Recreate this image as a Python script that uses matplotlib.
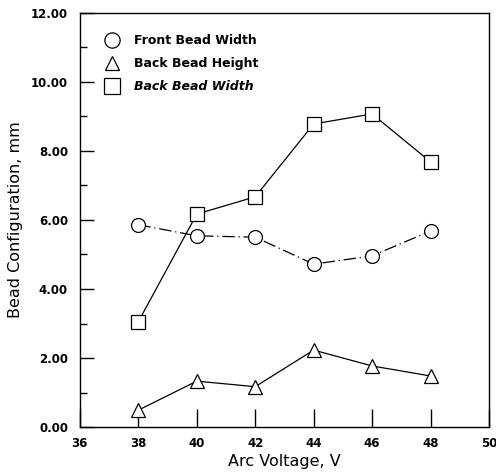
import matplotlib
matplotlib.use("Agg")
import matplotlib.pyplot as plt
import matplotlib.ticker as mticker
from matplotlib.lines import Line2D

plt.rcParams['font.family'] = ['DejaVu Sans']

voltage = [38, 40, 42, 44, 46, 48]
front_bead_width = [5.86, 5.54, 5.50, 4.72, 4.96, 5.68]
back_bead_height = [0.49, 1.33, 1.17, 2.23, 1.77, 1.48]
back_bead_width = [3.05, 6.17, 6.67, 8.78, 9.07, 7.68]

fig = plt.figure(figsize=(4.96, 4.74), dpi=100)
ax = fig.add_axes([0.161, 0.099, 0.825, 0.874])

ax.plot(voltage, front_bead_width, color='black', lw=0.9, ls=(0, (10, 3, 1, 3)),
        marker='o', ms=10, mfc='white', mec='black', mew=0.9)
ax.plot(voltage, back_bead_height, color='black', lw=0.9,
        marker='^', ms=10, mfc='white', mec='black', mew=0.9)
ax.plot(voltage, back_bead_width, color='black', lw=0.9,
        marker='s', ms=10, mfc='white', mec='black', mew=0.9)

ax.set_xlim(36, 50)
ax.set_ylim(0, 12)
ax.xaxis.set_major_locator(mticker.MultipleLocator(2))
ax.yaxis.set_major_locator(mticker.MultipleLocator(2))
ax.yaxis.set_minor_locator(mticker.MultipleLocator(1))
ax.yaxis.set_major_formatter(mticker.FormatStrFormatter('%.2f'))
ax.tick_params(axis='both', which='major', direction='in', length=10, width=1,
               labelsize=8.5)
ax.tick_params(axis='y', which='major', pad=8.5)
ax.tick_params(axis='y', which='minor', direction='in', length=5, width=1)
ax.tick_params(axis='x', which='major', length=13, pad=7)
for lab in ax.get_xticklabels() + ax.get_yticklabels():
    lab.set_fontweight('bold')

for s in ax.spines.values():
    s.set_linewidth(1.0)

ax.set_xlabel('Arc Voltage, V', fontsize=11.5, labelpad=3)
ax.set_ylabel('Bead Configuration, mm', fontsize=11.5, labelpad=6)

# legend shows markers only
handles = [
    Line2D([], [], ls='none', marker='o', ms=11, mfc='white', mec='black', mew=0.9),
    Line2D([], [], ls='none', marker='^', ms=10, mfc='white', mec='black', mew=0.9),
    Line2D([], [], ls='none', marker='s', ms=11, mfc='white', mec='black', mew=0.9),
]
labels = ['Front Bead Width', 'Back Bead Height', 'Back Bead Width']
leg = ax.legend(handles, labels, loc='upper left', bbox_to_anchor=(0.02, 0.976),
                frameon=False, handletextpad=0.8, labelspacing=0.8,
                prop={'weight': 'bold', 'size': 9})
leg.get_texts()[2].set_style('italic')

fig.savefig('out.png', dpi=100)
